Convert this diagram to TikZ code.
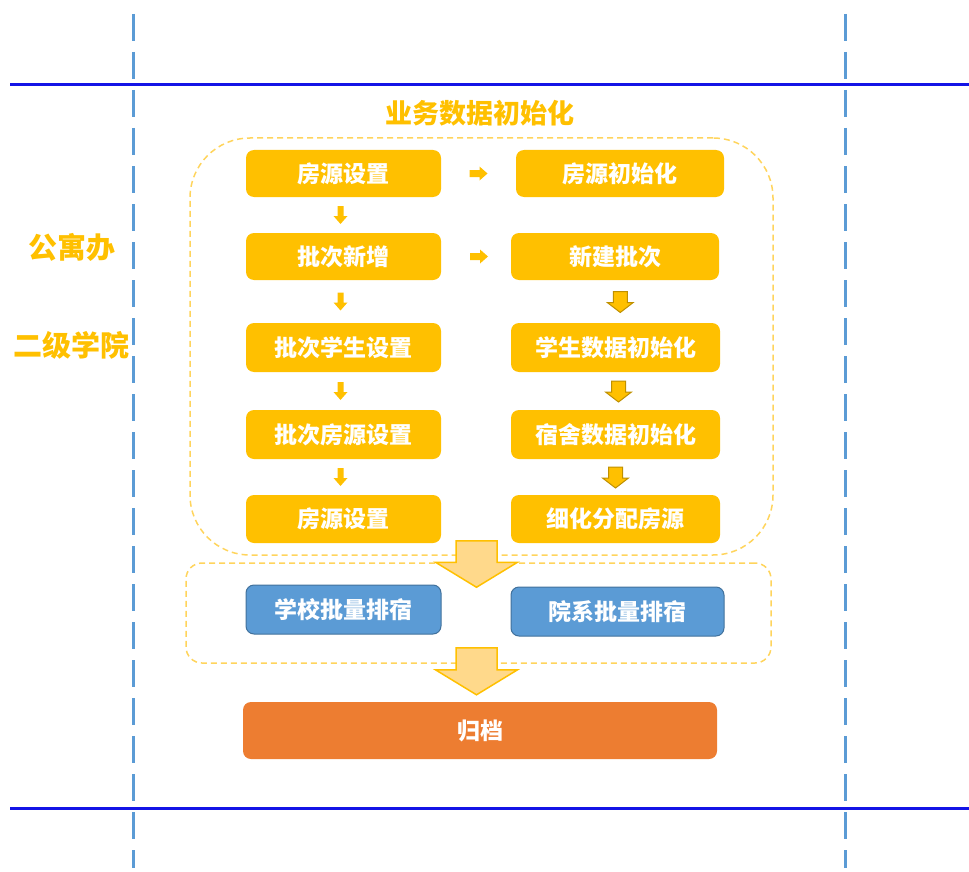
\documentclass[tikz,border=0pt]{standalone}
\usepackage{fontspec}
\newfontfamily\cjk{Noto Sans CJK SC}
\usetikzlibrary{calc}
\definecolor{gold}{HTML}{FFC000}
\definecolor{golddark}{HTML}{BF9000}
\definecolor{goldline}{HTML}{FFD45C}
\definecolor{goldlight}{HTML}{FFD98B}
\definecolor{bluebox}{HTML}{5B9BD5}
\definecolor{blueedge}{HTML}{41719C}
\definecolor{orangebox}{HTML}{ED7D31}
\definecolor{lineblue}{HTML}{1414E6}
\definecolor{dashblue}{HTML}{5B9BD5}
\newcommand{\downblock}[6]{\path[#1] let \p1=#2, \p2=#3 in
  (\x1-#4pt,\y1) -- (\x1+#4pt,\y1) -- (\x1+#4pt,\y2+#6pt) -- (\x1+#5pt,\y2+#6pt)
  -- (\x1,\y2) -- (\x1-#5pt,\y2+#6pt) -- (\x1-#4pt,\y2+#6pt) -- cycle;}
\newcommand{\rightblock}[6]{\path[#1] let \p1=#2, \p2=#3 in
  (\x1,\y1+#4pt) -- (\x2-#6pt,\y1+#4pt) -- (\x2-#6pt,\y1+#5pt) -- (\x2,\y1)
  -- (\x2-#6pt,\y1-#5pt) -- (\x2-#6pt,\y1-#4pt) -- (\x1,\y1-#4pt) -- cycle;}
\begin{document}
\begin{tikzpicture}[x=1pt,y=-1pt,
  box/.style={rounded corners=8pt,inner sep=0pt,text=white,font=\cjk\bfseries\fontsize{23}{25}\selectfont},
  ybox/.style={box,fill=gold},
  bbox/.style={box,fill=bluebox,draw=blueedge,line width=1pt},
  grp/.style={draw=goldline,dashed,dash pattern=on 6pt off 4pt,line width=1.5pt,inner sep=0pt},
  lab/.style={text=gold,font=\cjk\bfseries\fontsize{29}{31}\selectfont},
  smallarr/.style={fill=gold},
  midarr/.style={fill=gold,draw=golddark,line width=1pt},
  bigarr/.style={fill=goldlight,draw=gold,line width=1.5pt},
  vdash/.style={dashblue,line width=3pt,dash pattern=on 27pt off 11pt}]
\useasboundingbox (0,0) rectangle (969,872);
% frame lines
\draw[vdash] (133,14) -- (133,868);
\draw[vdash] (845,14) -- (845,868);
\draw[lineblue,line width=3pt] (10,85) -- (969,85);
\draw[lineblue,line width=3pt] (10,808) -- (969,808);
% labels
\node[lab,font=\cjk\bfseries\fontsize{27}{29}\selectfont] (title) at (480,113) {业务数据初始化};
\node[lab] (gyb) at (72,247) {公寓办};
\node[lab] (ejxy) at (71,345) {二级学院};
% groups
\node[grp,rounded corners=60pt,minimum width=583pt,minimum height=417pt] (grp1) at (481.5,346.5) {};
\node[grp,rounded corners=16pt,minimum width=585pt,minimum height=100pt] (grp2) at (478.5,613) {};
% left column
\node[ybox,minimum width=195pt,minimum height=47pt] (L1) at (343.5,173.5) {房源设置};
\node[ybox,minimum width=195pt,minimum height=47pt] (L2) at (343.5,256.5) {批次新增};
\node[ybox,minimum width=195pt,minimum height=49pt] (L3) at (343.5,347.5) {批次学生设置};
\node[ybox,minimum width=195pt,minimum height=49pt] (L4) at (343.5,434.5) {批次房源设置};
\node[ybox,minimum width=195pt,minimum height=48pt] (L5) at (343.5,519) {房源设置};
% right column
\node[ybox,minimum width=208pt,minimum height=47pt] (R1) at (620,173.5) {房源初始化};
\node[ybox,minimum width=208pt,minimum height=47pt] (R2) at (615,256.5) {新建批次};
\node[ybox,minimum width=209pt,minimum height=49pt] (R3) at (615.5,347.5) {学生数据初始化};
\node[ybox,minimum width=209pt,minimum height=49pt] (R4) at (615.5,434.5) {宿舍数据初始化};
\node[ybox,minimum width=209pt,minimum height=48pt] (R5) at (615.5,519) {细化分配房源};
% blue boxes
\node[bbox,minimum width=195pt,minimum height=49pt] (B1) at (343.5,609.5) {学校批量排宿};
\node[bbox,minimum width=213pt,minimum height=49pt] (B2) at (617.5,611.5) {院系批量排宿};
% archive
\node[box,fill=orangebox,minimum width=474pt,minimum height=57pt] (G) at (480,730.5) {归档};
% small left arrows
\downblock{smallarr}{($(L1.south)!0.5!(L2.north)+(-3,-9)$)}{($(L1.south)!0.5!(L2.north)+(-3,9)$)}{3}{7}{8}
\downblock{smallarr}{($(L2.south)!0.5!(L3.north)+(-3,-9)$)}{($(L2.south)!0.5!(L3.north)+(-3,9)$)}{3}{7}{8}
\downblock{smallarr}{($(L3.south)!0.5!(L4.north)+(-3,-9)$)}{($(L3.south)!0.5!(L4.north)+(-3,9)$)}{3}{7}{8}
\downblock{smallarr}{($(L4.south)!0.5!(L5.north)+(-3,-9)$)}{($(L4.south)!0.5!(L5.north)+(-3,9)$)}{3}{7}{8}
% horizontal arrows
\rightblock{smallarr}{($(L1.east)!0.5!(R1.west)+(-9,0)$)}{($(L1.east)!0.5!(R1.west)+(9,0)$)}{3.5}{7}{8}
\rightblock{smallarr}{($(L2.east)!0.5!(R2.west)+(-6,0)$)}{($(L2.east)!0.5!(R2.west)+(12,0)$)}{3.5}{7}{8}
% right column arrows
\downblock{midarr}{($(R2.south)!0.5!(R3.north)+(5,-10)$)}{($(R2.south)!0.5!(R3.north)+(5,11)$)}{7}{13}{10}
\downblock{midarr}{($(R3.south)!0.5!(R4.north)+(3,-10)$)}{($(R3.south)!0.5!(R4.north)+(3,11)$)}{7}{13}{10}
\downblock{midarr}{($(R4.south)!0.5!(R5.north)+(0,-10)$)}{($(R4.south)!0.5!(R5.north)+(0,11)$)}{7}{13}{10}
% big arrows
\downblock{bigarr}{($(grp1.south)+(-5,-15)$)}{($(grp2.north)+(-2,25)$)}{20.5}{41}{25}
\downblock{bigarr}{($(grp2.south)+(-2,-16)$)}{($(G.north)+(-4,-7)$)}{20.5}{41}{25}
\end{tikzpicture}
\end{document}
